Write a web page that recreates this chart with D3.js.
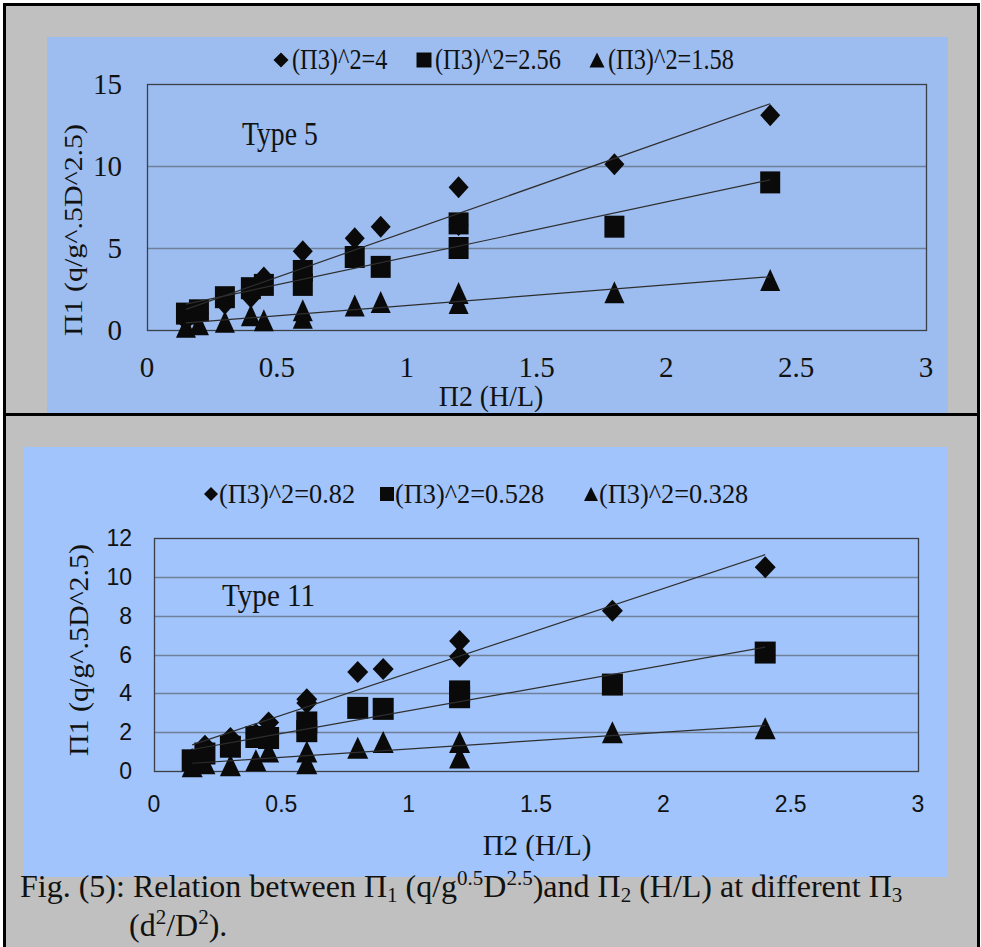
<!DOCTYPE html>
<html>
<head>
<meta charset="utf-8">
<script src="https://cdn.jsdelivr.net/npm/d3@7/dist/d3.min.js"></script>
<style>
body { margin: 0; background: #fff; }
text { fill: #111; }
</style>
</head>
<body>
<div id="chart"></div>
<script>

// H/L values used in both tests (0.6 and 1.2 were run twice)
var hOverL = [0.15, 0.2, 0.3, 0.4, 0.45, 0.6, 0.6, 0.8, 0.9, 1.2, 1.2, 1.8, 2.4];

// Type 5
var type5Pi3_4    = [0.6, 1.0, 1.6, 2.0, 3.2, 4.8, 3.4, 5.6, 6.3, 8.7, 6.4, 10.1, 13.1];
var type5Pi3_256  = [1.0, 1.2, 2.0, 2.55, 2.75, 3.6, 2.75, 4.45, 3.85, 6.5, 5.0, 6.3, 9.0];
var type5Pi3_158  = [0.2, 0.35, 0.5, 0.9, 0.6, 1.2, 0.75, 1.5, 1.7, 2.25, 1.65, 2.3, 3.05];
var type5Legend   = ["(\u03A03)^2=4", "(\u03A03)^2=2.56", "(\u03A03)^2=1.58"];

// Type 11
var type11Pi3_082  = [0.6, 1.3, 1.7, 1.9, 2.5, 3.7, 3.5, 5.1, 5.25, 6.7, 5.9, 8.25, 10.5];
var type11Pi3_0528 = [0.55, 0.9, 1.25, 1.75, 1.7, 2.5, 2.05, 3.25, 3.2, 4.1, 3.8, 4.45, 6.1];
var type11Pi3_0328 = [0.25, 0.4, 0.3, 0.55, 1.0, 1.0, 0.4, 1.2, 1.5, 1.5, 0.7, 2.0, 2.2];
var type11Legend   = ["(\u03A03)^2=0.82", "(\u03A03)^2=0.528", "(\u03A03)^2=0.328"];

var xTicks = [0, 0.5, 1, 1.5, 2, 2.5, 3];
var type5YTicks = [0, 5, 10, 15];
var type11YTicks = [0, 2, 4, 6, 8, 10, 12];

var serif = "'Liberation Serif', 'Times New Roman', serif";
var sans = "'Liberation Sans', Arial, sans-serif";

var svg = d3.select("#chart")
    .append("svg")
    .attr("width", 981)
    .attr("height", 947);

// grey table cell frame
svg.append("rect")
    .attr("x", 4.5).attr("y", 4.5)
    .attr("width", 974).attr("height", 960)
    .attr("fill", "#c0c0c0")
    .attr("stroke", "#000")
    .attr("stroke-width", 3);
svg.append("line")
    .attr("x1", 4).attr("x2", 979)
    .attr("y1", 414.5).attr("y2", 414.5)
    .attr("stroke", "#000").attr("stroke-width", 3);

// text with horizontal squeeze (the picture is a bit narrowed)
function label(g, str, x, y, size, sx, anchor, family, rot) {
    var t = "translate(" + x + "," + y + ") scale(" + sx + ",1)";
    if (rot) t += " rotate(" + rot + ")";
    return g.append("text")
        .attr("transform", t)
        .attr("text-anchor", anchor || "start")
        .attr("font-family", family || serif)
        .attr("font-size", size)
        .text(str);
}

function marker(shape, w, h) {
    var a = w / 2, b = h / 2;
    if (shape == "diamond") return "M0," + (-b) + "L" + a + ",0L0," + b + "L" + (-a) + ",0Z";
    if (shape == "square") return "M" + (-a) + "," + (-b) + "H" + a + "V" + b + "H" + (-a) + "Z";
    return "M0," + (-b) + "L" + a + "," + b + "L" + (-a) + "," + b + "Z";
}

function fit(xs, ys) {
    var mx = d3.mean(xs), my = d3.mean(ys);
    var sxy = d3.sum(xs, function(x, i) { return (x - mx) * (ys[i] - my); });
    var sxx = d3.sum(xs, function(x) { return (x - mx) * (x - mx); });
    var m = sxy / sxx;
    return [m, my - m * mx];
}

var shapes = ["diamond", "square", "triangle"];

function drawChart(c) {
    var g = svg.append("g");

    g.append("rect")
        .attr("x", c.panel[0]).attr("y", c.panel[1])
        .attr("width", c.panel[2]).attr("height", c.panel[3])
        .attr("fill", c.fill);

    var x = d3.scaleLinear().domain([0, 3]).range([c.plot[0], c.plot[0] + c.plot[2]]);
    var y = d3.scaleLinear().domain([0, c.yMax]).range([c.plot[1] + c.plot[3], c.plot[1]]);

    // gridlines
    g.selectAll(".grid")
        .data(c.yTicks.filter(function(d) { return d > 0 && d < c.yMax; }))
        .enter()
        .append("line")
            .attr("x1", x(0)).attr("x2", x(3))
            .attr("y1", function(d) { return Math.round(y(d)) + 0.5; })
            .attr("y2", function(d) { return Math.round(y(d)) + 0.5; })
            .attr("stroke", "#6f7f98")
            .attr("stroke-width", 1.5);

    g.append("rect")
        .attr("x", c.plot[0] + 0.5).attr("y", c.plot[1] + 0.5)
        .attr("width", c.plot[2]).attr("height", c.plot[3])
        .attr("fill", "none")
        .attr("stroke", "#3a3f48")
        .attr("stroke-width", 1.3);

    // tick labels
    c.yTicks.forEach(function(d) {
        label(g, d, c.yLabX, y(d) + c.yLabDy, c.tickSize, c.tickSx, "end", c.tickFont);
    });
    xTicks.forEach(function(d) {
        label(g, d, x(d), c.xLabY, c.tickSize, c.tickSx, "middle", c.tickFont);
    });

    // points, one series after the other
    c.series.forEach(function(vals, s) {
        g.selectAll(".pt" + s)
            .data(vals)
            .enter()
            .append("path")
                .attr("transform", function(d, i) {
                    return "translate(" + x(hOverL[i]) + "," + y(d) + ")";
                })
                .attr("d", marker(shapes[s], c.mk[0], c.mk[1]))
                .attr("fill", "#0a0a0a");
    });

    // linear trend lines
    c.series.forEach(function(vals) {
        var f = fit(hOverL, vals);
        var x0 = d3.min(hOverL), x1 = d3.max(hOverL);
        g.append("line")
            .attr("x1", x(x0)).attr("y1", y(f[0] * x0 + f[1]))
            .attr("x2", x(x1)).attr("y2", y(f[0] * x1 + f[1]))
            .attr("stroke", "#2e2e2e")
            .attr("stroke-width", 1.2);
    });

    // legend
    c.legend.forEach(function(name, i) {
        var lx = c.legX[i];
        g.append("path")
            .attr("transform", "translate(" + lx + "," + c.legY + ")")
            .attr("d", marker(shapes[i], c.legMk, c.legMk))
            .attr("fill", "#0a0a0a");
        label(g, name, lx + c.legGap, c.legY + 9, c.legSize, c.legSx, "start");
    });

    label(g, c.type, c.typeX, c.typeY, c.typeSize, c.legSx, "start");
    label(g, "\u03A02 (H/L)", c.xTitle[0], c.xTitle[1], 29, c.xTitleSx, "middle");
    label(g, "\u03A01 (q/g^.5D^2.5)", c.yTitle[0], c.yTitle[1], 30, c.yTitleSx, "middle", serif, -90);
}

drawChart({
    panel: [47, 37, 901, 376], fill: "#9dbdf0",
    plot: [147, 84, 779, 246], yMax: 15, yTicks: type5YTicks,
    series: [type5Pi3_4, type5Pi3_256, type5Pi3_158],
    mk: [20, 22],
    tickFont: serif, tickSize: 29, tickSx: 1,
    yLabX: 122, yLabDy: 10, xLabY: 377,
    legend: type5Legend, legX: [281, 424, 597], legY: 60, legMk: 15, legGap: 11,
    legSize: 29, legSx: 0.84,
    type: "Type 5", typeX: 242, typeY: 145, typeSize: 33,
    xTitle: [491, 406], xTitleSx: 0.96,
    yTitle: [82, 230], yTitleSx: 0.85
});

drawChart({
    panel: [24, 447, 923, 430], fill: "#a0c4fb",
    plot: [154, 538, 764, 233], yMax: 12, yTicks: type11YTicks,
    series: [type11Pi3_082, type11Pi3_0528, type11Pi3_0328],
    mk: [21, 22],
    tickFont: sans, tickSize: 23, tickSx: 1,
    yLabX: 132, yLabDy: 8, xLabY: 812,
    legend: type11Legend, legX: [211, 387, 591], legY: 494, legMk: 14, legGap: 8,
    legSize: 28, legSx: 0.94,
    type: "Type 11", typeX: 222, typeY: 606, typeSize: 31,
    xTitle: [537, 855], xTitleSx: 1,
    yTitle: [88, 650], yTitleSx: 0.9
});

// caption
var cap = svg.append("text")
    .attr("transform", "translate(20,897)")
    .attr("font-family", serif)
    .attr("font-size", 32);
cap.append("tspan").text("Fig. (5): Relation between \u03A0");
cap.append("tspan").attr("font-size", 21).attr("dy", 5).text("1");
cap.append("tspan").attr("dy", -5).text(" (q/g");
cap.append("tspan").attr("font-size", 21).attr("dy", -12).text("0.5");
cap.append("tspan").attr("dy", 12).text("D");
cap.append("tspan").attr("font-size", 21).attr("dy", -12).text("2.5");
cap.append("tspan").attr("dy", 12).text(")and \u03A0");
cap.append("tspan").attr("font-size", 21).attr("dy", 5).text("2");
cap.append("tspan").attr("dy", -5).text(" (H/L) at different \u03A0");
cap.append("tspan").attr("font-size", 21).attr("dy", 5).text("3");

var cap2 = svg.append("text")
    .attr("transform", "translate(129,936)")
    .attr("font-family", serif)
    .attr("font-size", 32);
cap2.append("tspan").text("(d");
cap2.append("tspan").attr("font-size", 21).attr("dy", -12).text("2");
cap2.append("tspan").attr("dy", 12).text("/D");
cap2.append("tspan").attr("font-size", 21).attr("dy", -12).text("2");
cap2.append("tspan").attr("dy", 12).text(").");

</script>
</body>
</html>
